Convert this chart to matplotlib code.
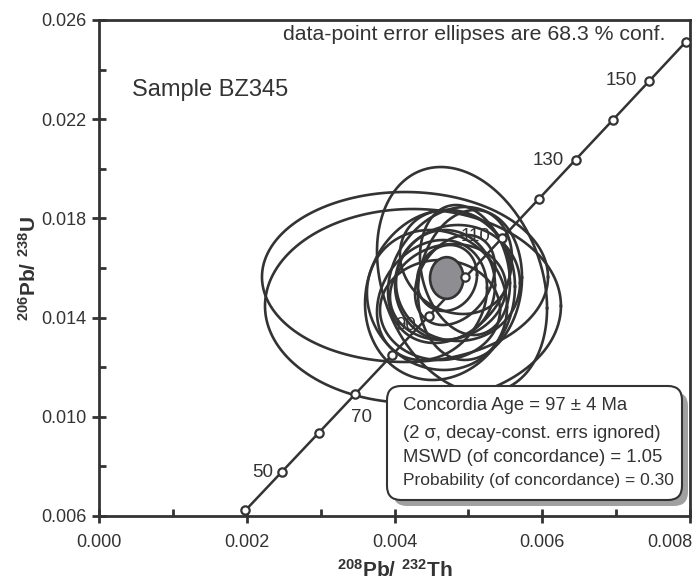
import numpy as np
import matplotlib
matplotlib.use("Agg")
import matplotlib.pyplot as plt
from matplotlib.patches import FancyBboxPatch, Ellipse
from matplotlib.transforms import IdentityTransform, ScaledTranslation
from matplotlib.ticker import FixedLocator, FormatStrFormatter

plt.rcParams['font.family'] = ['Liberation Sans', 'DejaVu Sans']
plt.rcParams['mathtext.fontset'] = 'custom'
plt.rcParams['mathtext.rm'] = 'Liberation Sans'
plt.rcParams['mathtext.bf'] = 'Liberation Sans:bold'

DARK = '#333333'

# Concordia curve marker points (age in Ma, 208Pb/232Th, 206Pb/238U)
ages = [40, 50, 60, 70, 80, 90, 100, 110, 120, 130, 140, 150, 160]
conc_x = [0.001981, 0.002477, 0.002973, 0.003469, 0.003966, 0.004463, 0.004960,
          0.005457, 0.005955, 0.006452, 0.006951, 0.007449, 0.007947]
conc_y = [0.006224, 0.007786, 0.009351, 0.010918, 0.012487, 0.014059, 0.015633,
          0.017210, 0.018789, 0.020371, 0.021955, 0.023542, 0.025131]
labeled_ages = [50, 70, 90, 110, 130, 150]

# data-point error ellipses: centre, half-extent in x and y, correlation
ell_x = [0.004142, 0.004250, 0.004914, 0.004616, 0.004575, 0.004751, 0.004819, 0.004684,
         0.004819, 0.004724, 0.004954, 0.004508, 0.004711, 0.004860, 0.004616, 0.005022]
ell_y = [0.015637, 0.014468, 0.015516, 0.014911, 0.014710, 0.015718, 0.016242, 0.015315,
         0.015516, 0.015032, 0.015919, 0.014710, 0.015597, 0.015395, 0.014306, 0.015315]
ell_sx = [0.001936, 0.002003, 0.001151, 0.001015, 0.000948, 0.000839, 0.000745, 0.000677,
          0.000541, 0.000785, 0.000609, 0.000745, 0.000406, 0.000839, 0.000812, 0.000704]
ell_sy = [0.003427, 0.003911, 0.004556, 0.003427, 0.002823, 0.002742, 0.002097, 0.002218,
          0.001815, 0.001935, 0.002621, 0.002419, 0.001331, 0.002339, 0.002016, 0.003024]
ell_rho = [0.0, 0.0, -0.25, 0.1, -0.1, 0.25, -0.15, 0.0,
           0.3, 0.1, -0.2, 0.2, 0.1, 0.0, 0.0, 0.1]

# concordia age ellipse
cage_x, cage_y = 0.004707, 0.015597
cage_sx, cage_sy = 0.000226, 0.00084

x_ticks = [0.000, 0.002, 0.004, 0.006, 0.008]
x_minor = [0.001, 0.003, 0.005, 0.007]
y_ticks = [0.006, 0.010, 0.014, 0.018, 0.022, 0.026]
y_minor = [0.008, 0.012, 0.016, 0.020, 0.024]

box_lines = ["Concordia Age = 97 \u00b1 4 Ma",
             "(2 \u03c3, decay-const. errs ignored)",
             "MSWD (of concordance) = 1.05",
             "Probability (of concordance) = 0.30"]

fig = plt.figure(figsize=(6.93, 5.83), dpi=100)
ax = fig.add_axes([99/693, 1-516/583, (690-99)/693, (516-20)/583])
ax.set_xlim(0.0, 0.008)
ax.set_ylim(0.006, 0.026)

# concordia line
ax.plot(conc_x, conc_y, color=DARK, lw=1.8, zorder=2)

# error ellipses
t = np.linspace(0, 2*np.pi, 300)
for cx, cy, sx, sy, r in zip(ell_x, ell_y, ell_sx, ell_sy, ell_rho):
    ex = cx + sx*np.cos(t)
    ey = cy + sy*(r*np.cos(t) + np.sqrt(1-r*r)*np.sin(t))
    ax.plot(ex, ey, color=DARK, lw=1.9, zorder=3)

# concordia age ellipse
ax.add_patch(Ellipse((cage_x, cage_y), 2*cage_sx, 2*cage_sy, facecolor='#8e8e92',
                     edgecolor=DARK, lw=1.9, zorder=4))

# markers
ax.plot(conc_x, conc_y, ls='none', marker='o', ms=6, mfc='white', mec=DARK, mew=1.6, zorder=5)

# age labels (pixel offsets from marker; +y is up)
offsets = {50: (-9, -1, 'right'), 70: (6, -23, 'center'), 90: (-13, -9, 'right'),
           110: (-12, 1, 'right'), 130: (-12, -1, 'right'), 150: (-12, 0, 'right')}
for a in labeled_ages:
    i = ages.index(a)
    dx, dy, ha = offsets[a]
    ax.annotate(str(a), (conc_x[i], conc_y[i]), xytext=(dx*0.72, dy*0.72),
                textcoords='offset points', ha=ha, va='center', fontsize=13.5,
                color=DARK, zorder=2.5)

ax.text((665-99)/591, 1-(35-20)/496, "data-point error ellipses are 68.3 % conf.",
        transform=ax.transAxes, fontsize=15.3, color=DARK, va='center', ha='right')
ax.text((132-99)/591, 1-(90-20)/496, "Sample BZ345", transform=ax.transAxes,
        fontsize=17, color=DARK, va='center', ha='left')

# ticks / spines
ax.xaxis.set_major_locator(FixedLocator(x_ticks))
ax.xaxis.set_minor_locator(FixedLocator(x_minor))
ax.yaxis.set_major_locator(FixedLocator(y_ticks))
ax.yaxis.set_minor_locator(FixedLocator(y_minor))
ax.xaxis.set_major_formatter(FormatStrFormatter('%.3f'))
ax.yaxis.set_major_formatter(FormatStrFormatter('%.3f'))
ax.tick_params(which='major', direction='inout', length=10, width=2, color=DARK,
               labelsize=13, labelcolor=DARK)
ax.tick_params(axis='x', which='major', pad=8)
ax.tick_params(axis='y', which='major', pad=4)
ax.tick_params(which='minor', direction='in', length=5, width=2, color=DARK)
ax.tick_params(top=False, right=False, which='both')
for s in ax.spines.values():
    s.set_linewidth(2)
    s.set_color(DARK)

fig.canvas.draw()
last = ax.get_xticklabels()[-1]
last.set_horizontalalignment('right')
last.set_transform(last.get_transform() + ScaledTranslation(2/100, 0, fig.dpi_scale_trans))

ax.set_xlabel(r'$\mathbf{^{208}Pb/\ ^{232}Th}$', fontsize=15, color=DARK, labelpad=6)
ax.set_ylabel(r'$\mathbf{^{206}Pb/\ ^{238}U}$', fontsize=15, color=DARK, labelpad=1)

# results box with shadow (pixel coordinates)
H = 583
bx0, by0, bx1, by1 = 387, 386, 682, 500
shadow = FancyBboxPatch((bx0+6, H-by1-6), bx1-bx0, by1-by0,
                        boxstyle='round,pad=0,rounding_size=14', transform=IdentityTransform(),
                        facecolor='#a0a0a0', edgecolor='none', zorder=10)
box = FancyBboxPatch((bx0, H-by1), bx1-bx0, by1-by0,
                     boxstyle='round,pad=0,rounding_size=14', transform=IdentityTransform(),
                     facecolor='white', edgecolor=DARK, lw=1.5, zorder=11)
fig.add_artist(shadow)
fig.add_artist(box)
line_y = [405, 433, 457, 481]
sizes = [13.3, 13.3, 13.3, 12.5]
for txt, yy, fs in zip(box_lines, line_y, sizes):
    fig.text(403/693, 1-yy/H, txt, fontsize=fs, color=DARK, va='center', ha='left', zorder=12)

fig.savefig('out.png', dpi=100)
